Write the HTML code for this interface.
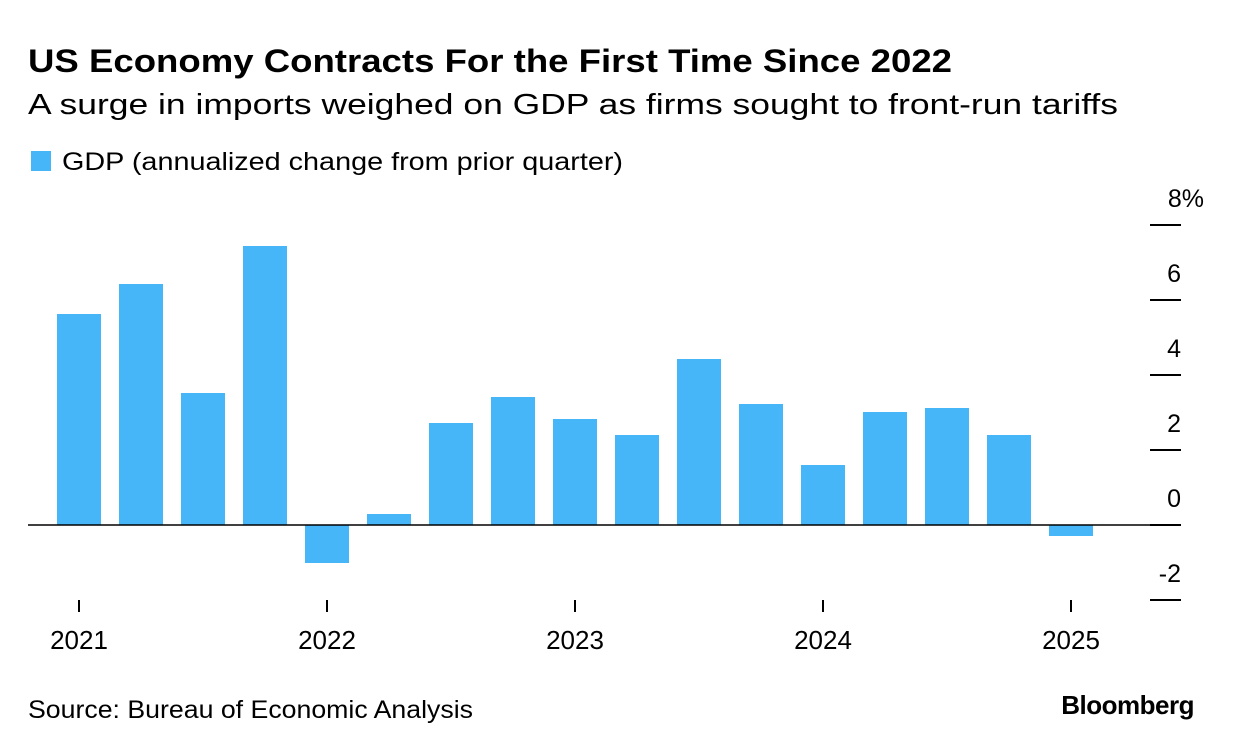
<!DOCTYPE html><html><head><style>
body{margin:0;background:#fff;width:1233px;height:750px;overflow:hidden;font-family:"Liberation Sans",sans-serif;color:#000}
</style></head><body>
<svg width="1233" height="750" xmlns="http://www.w3.org/2000/svg" font-family="Liberation Sans, sans-serif">
<text x="28" y="72" font-size="32" font-weight="bold" textLength="924" lengthAdjust="spacingAndGlyphs">US Economy Contracts For the First Time Since 2022</text>
<text x="28" y="114" font-size="29" textLength="1090" lengthAdjust="spacingAndGlyphs">A surge in imports weighed on GDP as firms sought to front-run tariffs</text>
<rect x="31" y="151" width="20" height="20" fill="#47b6f8"/>
<text x="62" y="170" font-size="25" textLength="561" lengthAdjust="spacingAndGlyphs">GDP (annualized change from prior quarter)</text>
<g fill="#47b6f8">
<rect x="57" y="314" width="44" height="211"/>
<rect x="119" y="284" width="44" height="241"/>
<rect x="181" y="393" width="44" height="132"/>
<rect x="243" y="246" width="44" height="279"/>
<rect x="305" y="525" width="44" height="38"/>
<rect x="367" y="514" width="44" height="11"/>
<rect x="429" y="423" width="44" height="102"/>
<rect x="491" y="397" width="44" height="128"/>
<rect x="553" y="419" width="44" height="106"/>
<rect x="615" y="435" width="44" height="90"/>
<rect x="677" y="359" width="44" height="166"/>
<rect x="739" y="404" width="44" height="121"/>
<rect x="801" y="465" width="44" height="60"/>
<rect x="863" y="412" width="44" height="113"/>
<rect x="925" y="408" width="44" height="117"/>
<rect x="987" y="435" width="44" height="90"/>
<rect x="1049" y="525" width="44" height="11"/>
</g>
<line x1="28" y1="525" x2="1150" y2="525" stroke="#000" stroke-width="1.5"/>
<g stroke="#000" stroke-width="2">
<line x1="1150" y1="225" x2="1181" y2="225"/><line x1="1150" y1="300" x2="1181" y2="300"/>
<line x1="1150" y1="375" x2="1181" y2="375"/><line x1="1150" y1="450" x2="1181" y2="450"/>
<line x1="1150" y1="525" x2="1181" y2="525"/><line x1="1150" y1="600" x2="1181" y2="600"/>
<line x1="79" y1="600" x2="79" y2="612"/><line x1="327" y1="600" x2="327" y2="612"/>
<line x1="575" y1="600" x2="575" y2="612"/><line x1="823" y1="600" x2="823" y2="612"/>
<line x1="1071" y1="600" x2="1071" y2="612"/>
</g>
<g font-size="25" text-anchor="end">
<text x="1204" y="207">8%</text><text x="1181" y="282">6</text><text x="1181" y="357">4</text>
<text x="1181" y="432">2</text><text x="1181" y="507">0</text><text x="1181" y="582">-2</text>
</g>
<g font-size="26" text-anchor="middle">
<text x="79" y="649">2021</text><text x="327" y="649">2022</text><text x="575" y="649">2023</text>
<text x="823" y="649">2024</text><text x="1071" y="649">2025</text>
</g>
<text x="28" y="718" font-size="25" textLength="445" lengthAdjust="spacingAndGlyphs">Source: Bureau of Economic Analysis</text>
<text x="1194" y="714" font-size="26" font-weight="bold" text-anchor="end" letter-spacing="-0.5">Bloomberg</text>
</svg>
</body></html>
